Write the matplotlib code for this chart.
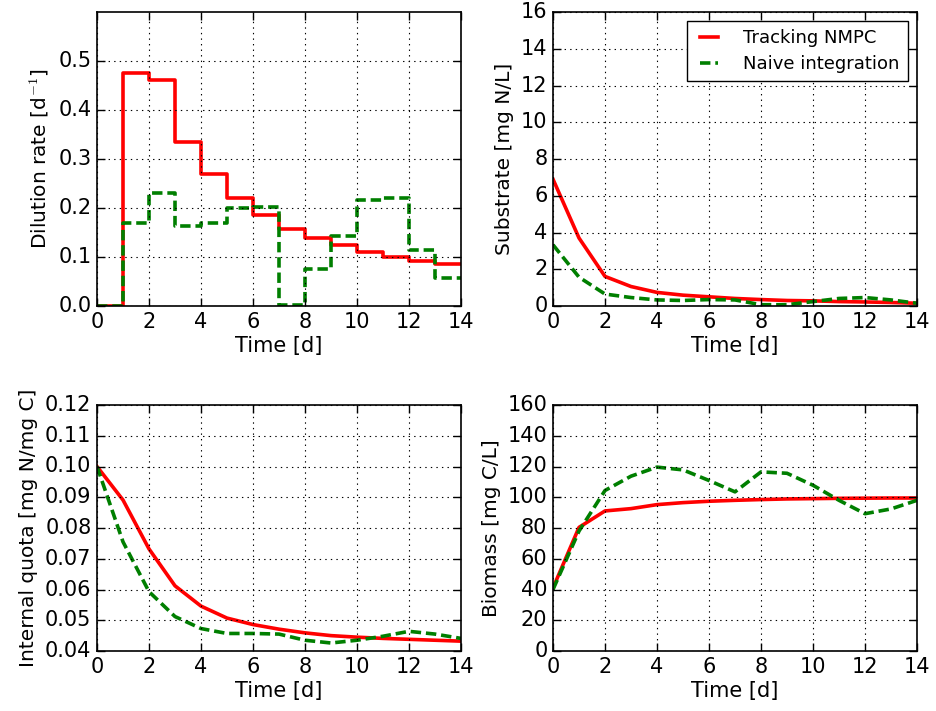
import matplotlib
matplotlib.use("Agg")
import matplotlib.pyplot as plt
import numpy as np

plt.style.use("classic")
plt.rcParams['font.family'] = ['DejaVu Sans']

t = list(range(15))
# Dilution rate (piecewise constant, value on [k, k+1))
dil_nmpc = [0.0, 0.476, 0.462, 0.335, 0.270, 0.220, 0.185, 0.157, 0.138, 0.124, 0.110, 0.100, 0.092, 0.085, 0.085]
dil_naive = [0.0, 0.170, 0.231, 0.164, 0.170, 0.200, 0.203, 0.002, 0.075, 0.142, 0.216, 0.220, 0.114, 0.058, 0.058]

sub_nmpc = [6.9, 3.7, 1.61, 1.06, 0.74, 0.59, 0.50, 0.41, 0.35, 0.30, 0.28, 0.24, 0.22, 0.19, 0.15]
sub_naive = [3.33, 1.57, 0.65, 0.46, 0.33, 0.30, 0.35, 0.33, 0.07, 0.07, 0.24, 0.41, 0.46, 0.33, 0.15]

quota_nmpc = [0.100, 0.0891, 0.0732, 0.0612, 0.0546, 0.0507, 0.0486, 0.0471, 0.0459, 0.0450, 0.0445, 0.0441, 0.0438, 0.0435, 0.0432]
quota_naive = [0.100, 0.0755, 0.0593, 0.0512, 0.0473, 0.0457, 0.0457, 0.0455, 0.0435, 0.0426, 0.0435, 0.0448, 0.0464, 0.0455, 0.0441]

bio_nmpc = [41, 80.4, 91.1, 92.6, 95.2, 96.5, 97.4, 98.0, 98.5, 98.9, 99.1, 99.3, 99.4, 99.5, 99.5]
bio_naive = [40, 78, 104.4, 113.7, 119.6, 117.8, 110.9, 103.5, 116.5, 115.6, 107.8, 98.0, 89.3, 92.4, 98.0]

labels = ["Tracking NMPC", "Naive integration"]

fig = plt.figure(figsize=(9.36, 7.11), dpi=100, facecolor='white')

W = 936.0
H = 711.0
def rect(x0, y0, x1, y1):
    return [x0 / W, 1 - y1 / H, (x1 - x0) / W, (y1 - y0) / H]

ax1 = fig.add_axes(rect(97, 12, 461, 306))
ax2 = fig.add_axes(rect(553, 12, 917, 306))
ax3 = fig.add_axes(rect(97, 405, 461, 651))
ax4 = fig.add_axes(rect(553, 405, 917, 651))

lw = 2.6
red = '#ff0000'
green = '#007f00'
dash = (7.5, 3.5)

ax1.plot(t, dil_nmpc, drawstyle='steps-post', color=red, lw=lw)
ax1.plot(t, dil_naive, drawstyle='steps-post', color=green, lw=lw, dashes=dash)
ax1.set_ylim(0, 0.6)
ax1.set_yticks([0.0, 0.1, 0.2, 0.3, 0.4, 0.5])
ax1.set_ylabel("Dilution rate [d$^{-1}$]")

ax2.plot(t, sub_nmpc, color=red, lw=lw, label=labels[0])
ax2.plot(t, sub_naive, color=green, lw=lw, dashes=dash, label=labels[1])
ax2.set_ylim(0, 16)
ax2.set_yticks(np.arange(0, 17, 2))
ax2.set_ylabel("Substrate [mg N/L]")
leg = ax2.legend(loc='upper right', fontsize=13, handlelength=1.6, borderpad=0.45,
                 labelspacing=0.45, handletextpad=1.1, borderaxespad=0.5)
leg.get_frame().set_edgecolor('black')

ax3.plot(t, quota_nmpc, color=red, lw=lw)
ax3.plot(t, quota_naive, color=green, lw=lw, dashes=dash)
ax3.set_ylim(0.04, 0.12)
ax3.set_yticks(np.arange(0.04, 0.1201, 0.01))
ax3.yaxis.set_major_formatter(matplotlib.ticker.FormatStrFormatter('%.2f'))
ax3.set_ylabel("Internal quota [mg N/mg C]")

ax4.plot(t, bio_nmpc, color=red, lw=lw)
ax4.plot(t, bio_naive, color=green, lw=lw, dashes=dash)
ax4.set_ylim(0, 160)
ax4.set_yticks(np.arange(0, 161, 20))
ax4.set_ylabel("Biomass [mg C/L]")

for ax in (ax1, ax2, ax3, ax4):
    ax.set_xlim(0, 14)
    ax.set_xticks(np.arange(0, 15, 2))
    ax.set_xlabel("Time [d]", fontsize=15, labelpad=3)
    ax.yaxis.label.set_size(14.5)
    ax.tick_params(labelsize=15, direction='in', length=6, width=1, top=True, right=True)
    ax.grid(True, color='black', linestyle=':', linewidth=0.8)
    ax.set_facecolor('white')
    for s in ax.spines.values():
        s.set_linewidth(1.2)

fig.savefig("out.png", dpi=100, facecolor='white')
